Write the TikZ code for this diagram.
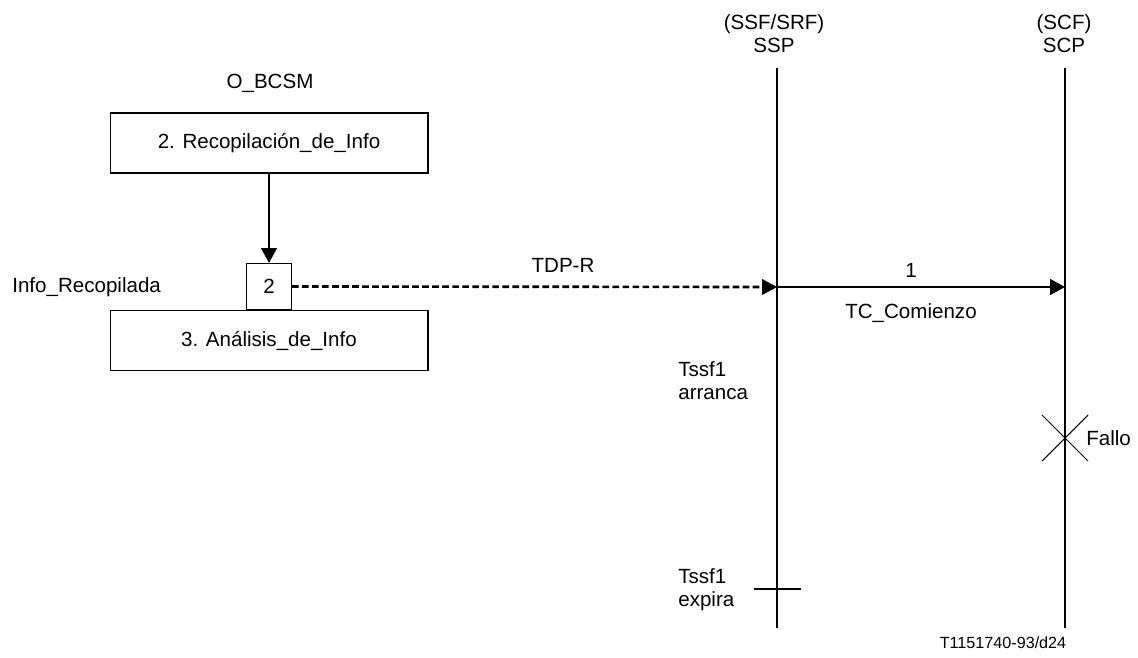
\documentclass[tikz,border=0pt]{standalone}
\usepackage{fontspec}
\setmainfont{Liberation Sans}
\usetikzlibrary{arrows.meta, positioning}

\newcommand{\letra}{\fontsize{11.7}{13.1}\selectfont}
\newcommand{\letrapeq}{\fontsize{9.2}{11}\selectfont}

\tikzset{
	caja/.style = {draw, black, line width = 0.6pt, minimum width = 6.36cm, minimum height = 1.2cm, inner sep = 0pt, font = \letra},
	cajita/.style = {draw, black, line width = 0.6pt, minimum width = 0.9cm, minimum height = 0.92cm, inner sep = 0pt, font = \letra},
	flecha/.style = {line width = 1.1pt, -{Triangle[length = 8.5pt, width = 9pt]}},
	discontinua/.style = {line width = 1.5pt, dash pattern = on 3.8pt off 1.9pt, -{Triangle[length = 8.5pt, width = 9pt, line width = 0.1pt]}},
	vida/.style = {line width = 1.1pt},
	fino/.style = {line width = 0.6pt},
	texto/.style = {black, inner sep = 0pt, font = \letra, align = center}
}

\begin{document}
\begin{tikzpicture}[x = 0.02cm, y = -0.02cm]

	\useasboundingbox (0, 0) rectangle (1138, 657);

	%%% O_BCSM %%%

	\node[texto] (bcsm) at (270, 83) {O\_BCSM};

	\node[caja] (recop) at (269, 143) {2. Recopilación\_de\_Info};
	\node[caja] (analisis) at (269, 340.5) {3. Análisis\_de\_Info};
	\node[cajita, above = 0pt of analisis] (pdt) {2};

	\node[texto, anchor = west] (inforec) at (12, 287) {Info\_Recopilada};

	\draw[flecha] (recop) -- (pdt);

	%%% SSP Y SCP %%%

	\node[texto] (ssp) at (774, 34) {(SSF/SRF)\\SSP};
	\node[texto] (scp) at (1064, 34) {(SCF)\\SCP};

	\coordinate (ssparr) at (777, 68);
	\coordinate (sspaba) at (777, 628);
	\coordinate (scparr) at (1065, 68);
	\coordinate (scpaba) at (1065, 628);

	\draw[vida] (ssparr) -- (sspaba);
	\draw[vida] (scparr) -- (scpaba);

	%%% MENSAJES %%%

	\coordinate (tdp) at (777, 287);
	\coordinate (tc) at (1065, 287);

	\draw[discontinua] (pdt) -- (tdp);
	\draw[flecha] (tdp) -- (tc);

	\node[texto] (tdpr) at (563, 265) {TDP-R};
	\node[texto] (uno) at (911, 270) {1};
	\node[texto] (comienzo) at (911, 313) {TC\_Comienzo};

	%%% TEMPORIZADOR Y FALLO %%%

	\node[texto, anchor = west, align = left] (arranca) at (678, 381) {Tssf1\\arranca};
	\node[texto, anchor = west, align = left] (expira) at (678, 590) {Tssf1\\expira};

	\coordinate (fin) at (777, 589);
	\draw[fino] (fin) ++(-23.5, 0) -- ++(47, 0);

	\coordinate (fallo) at (1065, 438);
	\draw[fino] (fallo) ++(-23, -23) -- ++(46, 46);
	\draw[fino] (fallo) ++(-23, 23) -- ++(46, -46);
	\node[texto, anchor = west] (txtfallo) at (1086, 438) {Fallo};

	\node[texto, font = \letrapeq] (ref) at (1003, 643) {T1151740-93/d24};

\end{tikzpicture}
\end{document}
